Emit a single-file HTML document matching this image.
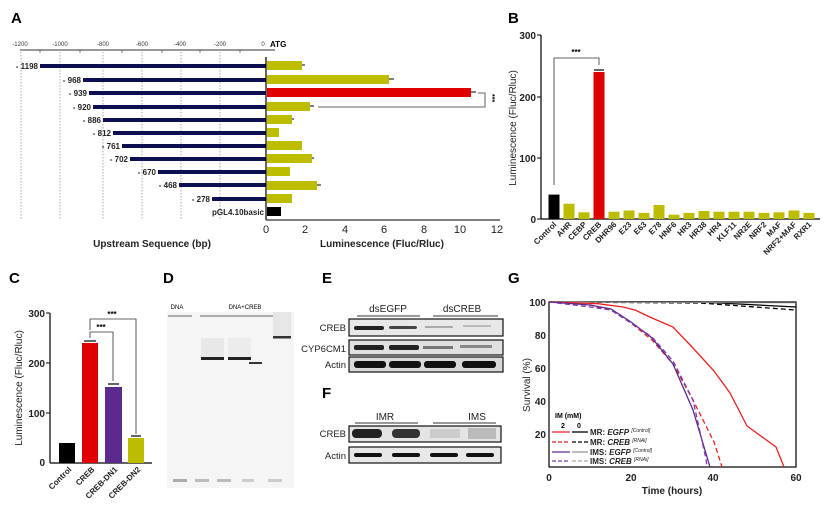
<!DOCTYPE html>
<html><head><meta charset="utf-8"><style>
body{margin:0;background:#fff}
svg{display:block;font-family:"Liberation Sans",Arial,sans-serif}
</style></head><body>
<svg width="827" height="527" viewBox="0 0 827 527" xmlns="http://www.w3.org/2000/svg">
<!-- Panel A -->
<text x="11" y="23" font-size="15" font-weight="bold">A</text>
<g font-size="6" fill="#333" text-anchor="middle">
<text x="20" y="46">-1200</text><text x="60" y="46">-1000</text><text x="103" y="46">-800</text><text x="142" y="46">-600</text><text x="180" y="46">-400</text><text x="220" y="46">-200</text><text x="263" y="46">0</text>
</g>
<text x="270" y="47" font-size="8" font-weight="bold">ATG</text>
<line x1="20" y1="50" x2="275" y2="50" stroke="#333" stroke-width="1"/>
<g stroke="#333" stroke-width="0.6">
<line x1="40" y1="50" x2="40" y2="53"/><line x1="80" y1="50" x2="80" y2="53"/><line x1="122" y1="50" x2="122" y2="53"/><line x1="162" y1="50" x2="162" y2="53"/><line x1="200" y1="50" x2="200" y2="53"/><line x1="240" y1="50" x2="240" y2="53"/>
</g>
<g stroke="#888" stroke-width="0.7" stroke-dasharray="1.5,1.5">
<line x1="21" y1="52" x2="21" y2="219"/><line x1="60" y1="52" x2="60" y2="219"/><line x1="103" y1="52" x2="103" y2="219"/><line x1="142" y1="52" x2="142" y2="219"/><line x1="181" y1="52" x2="181" y2="219"/><line x1="220" y1="52" x2="220" y2="219"/>
</g>
<g fill="#0d1050">
<rect x="40" y="64" width="226" height="4"/><rect x="83" y="78" width="183" height="4"/><rect x="89" y="91" width="177" height="4"/><rect x="93" y="105" width="173" height="4"/><rect x="103" y="118" width="163" height="4"/><rect x="113" y="131" width="153" height="4"/><rect x="122" y="144" width="144" height="4"/><rect x="130" y="157" width="136" height="4"/><rect x="158" y="170" width="108" height="4"/><rect x="179" y="183" width="87" height="4"/><rect x="212" y="197" width="54" height="4"/>
</g>
<g font-size="8" font-weight="bold" fill="#222" text-anchor="end">
<text x="38" y="69">- 1198</text><text x="81" y="83">- 968</text><text x="87" y="96">- 939</text><text x="91" y="110">- 920</text><text x="101" y="123">- 886</text><text x="111" y="136">- 812</text><text x="120" y="149">- 761</text><text x="128" y="162">- 702</text><text x="156" y="175">- 670</text><text x="177" y="188">- 468</text><text x="210" y="202">- 278</text><text x="264" y="215">pGL4.10basic</text>
</g>
<line x1="266" y1="57" x2="266" y2="220" stroke="#000" stroke-width="1.2"/>
<line x1="266" y1="220" x2="500" y2="220" stroke="#000" stroke-width="1"/>
<g fill="#bdbd00">
<rect x="267" y="61" width="35" height="9"/><rect x="267" y="75" width="122" height="9"/><rect x="267" y="102" width="43" height="9"/><rect x="267" y="115" width="25" height="9"/><rect x="267" y="128" width="12" height="9"/><rect x="267" y="141" width="35" height="9"/><rect x="267" y="154" width="45" height="9"/><rect x="267" y="167" width="23" height="9"/><rect x="267" y="181" width="50" height="9"/><rect x="267" y="194" width="25" height="9"/>
</g>
<rect x="267" y="88" width="204" height="9" fill="#e00000"/>
<rect x="267" y="207" width="14" height="9" fill="#000"/>
<g stroke="#000" stroke-width="1">
<line x1="302" y1="65" x2="305" y2="65"/><line x1="389" y1="79" x2="394" y2="79"/><line x1="471" y1="92" x2="476" y2="92"/><line x1="310" y1="106" x2="314" y2="106"/><line x1="292" y1="119" x2="294" y2="119"/><line x1="312" y1="158" x2="314" y2="158"/><line x1="317" y1="185" x2="321" y2="185"/>
</g>
<path d="M478 93 H485 V107 H318" fill="none" stroke="#333" stroke-width="0.8"/>
<text x="490" y="94" font-size="7" font-weight="bold" transform="rotate(90 490 94)">***</text>
<g font-size="11" fill="#222" text-anchor="middle">
<text x="266" y="233">0</text><text x="305" y="233">2</text><text x="345" y="233">4</text><text x="384" y="233">6</text><text x="424" y="233">8</text><text x="460" y="233">10</text><text x="497" y="233">12</text>
</g>
<text x="152" y="247" font-size="10" font-weight="bold" text-anchor="middle" fill="#222">Upstream Sequence (bp)</text>
<text x="382" y="247" font-size="10" font-weight="bold" text-anchor="middle" fill="#222">Luminescence (Fluc/Rluc)</text>

<!-- Panel B -->
<text x="508" y="23" font-size="15" font-weight="bold">B</text>
<line x1="541" y1="35" x2="541" y2="219" stroke="#000" stroke-width="1.2"/>
<line x1="541" y1="219" x2="820" y2="219" stroke="#000" stroke-width="1.2"/>
<g stroke="#000"><line x1="537" y1="35" x2="541" y2="35"/><line x1="537" y1="97" x2="541" y2="97"/><line x1="537" y1="158" x2="541" y2="158"/><line x1="537" y1="219" x2="541" y2="219"/></g>
<g font-size="10" font-weight="bold" text-anchor="end" fill="#222">
<text x="536" y="39">300</text><text x="536" y="101">200</text><text x="536" y="162">100</text><text x="536" y="223">0</text>
</g>
<text transform="translate(516 128) rotate(-90)" font-size="10" text-anchor="middle" fill="#222">Luminescence (Fluc/Rluc)</text>
<g id="bbars">
<rect x="548.5" y="194.6" width="11" height="24.4" fill="#000"/>
<rect x="563.5" y="203.7" width="11" height="15.3" fill="#bdbd00"/>
<rect x="578.5" y="212.3" width="11" height="6.7" fill="#bdbd00"/>
<rect x="593.5" y="72" width="11" height="147" fill="#e00000"/>
<rect x="608.5" y="211.7" width="11" height="7.3" fill="#bdbd00"/>
<rect x="623.5" y="210.5" width="11" height="8.5" fill="#bdbd00"/>
<rect x="638.5" y="212.9" width="11" height="6.1" fill="#bdbd00"/>
<rect x="653.5" y="205" width="11" height="14" fill="#bdbd00"/>
<rect x="668.5" y="214.7" width="11" height="4.3" fill="#bdbd00"/>
<rect x="683.5" y="212.9" width="11" height="6.1" fill="#bdbd00"/>
<rect x="698.5" y="211" width="11" height="8" fill="#bdbd00"/>
<rect x="713.5" y="211.7" width="11" height="7.3" fill="#bdbd00"/>
<rect x="728.5" y="211.7" width="11" height="7.3" fill="#bdbd00"/>
<rect x="743.5" y="211.7" width="11" height="7.3" fill="#bdbd00"/>
<rect x="758.5" y="212.9" width="11" height="6.1" fill="#bdbd00"/>
<rect x="773.5" y="212.3" width="11" height="6.7" fill="#bdbd00"/>
<rect x="788.5" y="210.5" width="11" height="8.5" fill="#bdbd00"/>
<rect x="803.5" y="212.9" width="11" height="6.1" fill="#bdbd00"/>
</g>
<line x1="594" y1="70" x2="604" y2="70" stroke="#333" stroke-width="1.5"/>
<path d="M554 185 V58 H599 V65" fill="none" stroke="#333" stroke-width="0.8"/>
<text x="576" y="55" font-size="8" font-weight="bold" text-anchor="middle">***</text>
<g font-size="8" font-weight="bold" text-anchor="end" fill="#222">
<text transform="translate(557 225) rotate(-45)">Control</text>
<text transform="translate(572 225) rotate(-45)">AHR</text>
<text transform="translate(587 225) rotate(-45)">CEBP</text>
<text transform="translate(602 225) rotate(-45)">CREB</text>
<text transform="translate(617 225) rotate(-45)">DHR96</text>
<text transform="translate(632 225) rotate(-45)">E23</text>
<text transform="translate(647 225) rotate(-45)">E63</text>
<text transform="translate(662 225) rotate(-45)">E78</text>
<text transform="translate(677 225) rotate(-45)">HNF6</text>
<text transform="translate(692 225) rotate(-45)">HR3</text>
<text transform="translate(707 225) rotate(-45)">HR38</text>
<text transform="translate(722 225) rotate(-45)">HR4</text>
<text transform="translate(737 225) rotate(-45)">KLF11</text>
<text transform="translate(752 225) rotate(-45)">NR2E</text>
<text transform="translate(767 225) rotate(-45)">NRF2</text>
<text transform="translate(782 225) rotate(-45)">MAF</text>
<text transform="translate(797 225) rotate(-45)">NRF2+MAF</text>
<text transform="translate(812 225) rotate(-45)">RXR1</text>
</g>

<!-- Panel C -->
<text x="9" y="283" font-size="15" font-weight="bold">C</text>
<line x1="50" y1="313" x2="50" y2="463" stroke="#000" stroke-width="1.2"/>
<line x1="50" y1="463" x2="152" y2="463" stroke="#000" stroke-width="1.2"/>
<g stroke="#000"><line x1="46" y1="313" x2="50" y2="313"/><line x1="46" y1="363" x2="50" y2="363"/><line x1="46" y1="413" x2="50" y2="413"/></g>
<g font-size="10" font-weight="bold" text-anchor="end" fill="#222">
<text x="45" y="317">300</text><text x="45" y="367">200</text><text x="45" y="417">100</text><text x="45" y="466">0</text>
</g>
<text transform="translate(22 388) rotate(-90)" font-size="10" text-anchor="middle" fill="#222">Luminescence (Fluc/Rluc)</text>
<rect x="59" y="443" width="16" height="20" fill="#000"/>
<rect x="82" y="343" width="16" height="120" fill="#e00000"/>
<rect x="105" y="387" width="17" height="76" fill="#5b2a8c"/>
<rect x="128" y="438" width="16" height="25" fill="#bdbd00"/>
<g stroke="#000" stroke-width="1.2"><line x1="84" y1="341" x2="96" y2="341"/><line x1="108" y1="384" x2="119" y2="384"/><line x1="131" y1="436" x2="141" y2="436"/></g>
<path d="M90 338 V332 H113 V381" fill="none" stroke="#333" stroke-width="0.8"/>
<path d="M90 330 V319 H136 V434" fill="none" stroke="#333" stroke-width="0.8"/>
<text x="101" y="330" font-size="8" font-weight="bold" text-anchor="middle">***</text>
<text x="112" y="317" font-size="8" font-weight="bold" text-anchor="middle">***</text>
<g font-size="8" font-weight="bold" text-anchor="end" fill="#222">
<text transform="translate(72 470) rotate(-45)">Control</text>
<text transform="translate(95 470) rotate(-45)">CREB</text>
<text transform="translate(118 470) rotate(-45)">CREB-DN1</text>
<text transform="translate(141 470) rotate(-45)">CREB-DN2</text>
</g>

<!-- Panel D -->
<text x="163" y="283" font-size="15" font-weight="bold">D</text>
<rect x="167" y="312" width="127" height="176" fill="#f5f5f5"/>
<text x="177" y="309" font-size="6" text-anchor="middle">DNA</text>
<text x="245" y="309" font-size="6" text-anchor="middle">DNA+CREB</text>
<line x1="168" y1="316" x2="192" y2="316" stroke="#333" stroke-width="0.8"/>
<line x1="200" y1="316" x2="290" y2="316" stroke="#333" stroke-width="0.8"/>
<rect x="201" y="338" width="23" height="20" fill="#e8e8e8"/><rect x="228" y="338" width="23" height="20" fill="#ececec"/>
<rect x="273" y="312" width="18" height="25" fill="#e6e6e6"/>
<rect x="201" y="357" width="23" height="3" fill="#222"/>
<rect x="228" y="357" width="23" height="3" fill="#222"/>
<rect x="249" y="362" width="13" height="2" fill="#333"/>
<rect x="273" y="336" width="18" height="2.5" fill="#333"/>
<g fill="#aaa"><rect x="173" y="479" width="14" height="3"/><rect x="195" y="479" width="14" height="3" fill="#bbb"/><rect x="217" y="479" width="14" height="3" fill="#bbb"/><rect x="242" y="479" width="12" height="3" fill="#ccc"/><rect x="268" y="479" width="14" height="3" fill="#ccc"/></g>

<!-- Panel E -->
<text x="322" y="283" font-size="15" font-weight="bold">E</text>
<g font-size="10" text-anchor="middle" fill="#222"><text x="388" y="312">dsEGFP</text><text x="462" y="312">dsCREB</text></g>
<line x1="357" y1="316" x2="420" y2="316" stroke="#333"/><line x1="433" y1="316" x2="498" y2="316" stroke="#333"/>
<g font-size="9.5" text-anchor="end" fill="#222"><text x="346" y="331">CREB</text><text x="346" y="352">CYP6CM1</text><text x="346" y="368">Actin</text></g>
<rect x="349" y="319" width="154" height="17" fill="#e8e8e8" stroke="#111" stroke-width="1.2"/>
<rect x="349" y="340" width="154" height="15" fill="#e0e0e0" stroke="#111" stroke-width="1.2"/>
<rect x="349" y="357" width="154" height="15" fill="#d8d8d8" stroke="#111" stroke-width="1.2"/>
<g fill="#222"><rect x="354" y="326" width="30" height="4" rx="2"/><rect x="389" y="326" width="28" height="3" rx="2" fill="#444"/><rect x="425" y="326" width="28" height="2" fill="#aaa"/><rect x="463" y="325" width="28" height="2" fill="#bbb"/>
<rect x="354" y="345" width="30" height="5" rx="2"/><rect x="389" y="345" width="30" height="5" rx="2"/><rect x="423" y="346" width="30" height="3" fill="#777"/><rect x="460" y="345" width="32" height="3" fill="#888"/>
<rect x="354" y="361" width="32" height="7" rx="3" fill="#111"/><rect x="389" y="361" width="32" height="7" rx="3" fill="#111"/><rect x="424" y="361" width="32" height="7" rx="3" fill="#111"/><rect x="462" y="361" width="34" height="7" rx="3" fill="#111"/></g>

<!-- Panel F -->
<text x="322" y="398" font-size="15" font-weight="bold">F</text>
<g font-size="10" text-anchor="middle" fill="#222"><text x="385" y="420">IMR</text><text x="477" y="420">IMS</text></g>
<line x1="355" y1="423" x2="418" y2="423" stroke="#333"/><line x1="433" y1="423" x2="496" y2="423" stroke="#333"/>
<g font-size="9.5" text-anchor="end" fill="#222"><text x="346" y="437">CREB</text><text x="346" y="459">Actin</text></g>
<rect x="349" y="426" width="152" height="16" fill="#e4e4e4" stroke="#111" stroke-width="1.2"/>
<rect x="349" y="447" width="152" height="16" fill="#e8e8e8" stroke="#111" stroke-width="1.2"/>
<rect x="352" y="429" width="30" height="9" rx="4" fill="#222"/><rect x="392" y="429" width="28" height="9" rx="4" fill="#333"/><rect x="430" y="429" width="30" height="9" fill="#ccc"/><rect x="468" y="428" width="28" height="11" fill="#bbb"/>
<g fill="#111"><rect x="354" y="453" width="28" height="4" rx="2"/><rect x="392" y="453" width="28" height="4" rx="2"/><rect x="430" y="453" width="28" height="4" rx="2"/><rect x="466" y="453" width="28" height="4" rx="2"/></g>

<!-- Panel G -->
<text x="508" y="283" font-size="15" font-weight="bold">G</text>
<rect x="549" y="302" width="247" height="165" fill="none" stroke="#000" stroke-width="1.2"/>
<g font-size="10" font-weight="bold" text-anchor="end" fill="#222">
<text x="546" y="306">100</text><text x="546" y="339">80</text><text x="546" y="372">60</text><text x="546" y="405">40</text><text x="546" y="438">20</text>
</g>
<g font-size="10" font-weight="bold" text-anchor="middle" fill="#222">
<text x="549" y="481">0</text><text x="631" y="481">20</text><text x="713" y="481">40</text><text x="796" y="481">60</text>
</g>
<text x="672" y="494" font-size="10" font-weight="bold" text-anchor="middle" fill="#222">Time (hours)</text>
<text transform="translate(530 385) rotate(-90)" font-size="10" text-anchor="middle" fill="#222">Survival (%)</text>
<g fill="none" stroke-width="1.3">
<polyline stroke="#000" points="549,302 700,302 796,307"/>
<polyline stroke="#000" stroke-dasharray="5,3" points="549,302 700,303 796,310"/>
<polyline stroke="#aaa" stroke-width="0.8" points="549,302 796,303"/>
<polyline stroke="#e82020" points="549,302 598,303.7 623,307 635,310 652,318 673,327 693,348 714,371 730,393 747,426 776,447 784,467"/>
<polyline stroke="#e82020" stroke-dasharray="5,3" points="549,302 590,305 611,310 631,323 652,340 673,364 693,400 714,442 722,467"/>
<polyline stroke="#5b2a8c" points="549,302 590,305 611,309 631,322 652,338 673,364 693,410 710,467"/>
<polyline stroke="#7b3ab0" stroke-dasharray="5,3" points="549,302 590,307 611,310 631,323 652,337 673,361 693,400 706,459 707,467"/>
</g>
<text x="555" y="418" font-size="7" font-weight="bold">IM (mM)</text>
<text x="561" y="428" font-size="7" font-weight="bold">2</text><text x="577" y="428" font-size="7" font-weight="bold">0</text>
<g stroke-width="1.3">
<line x1="552" y1="432" x2="570" y2="432" stroke="#e82020"/><line x1="572" y1="432" x2="588" y2="432" stroke="#000"/>
<line x1="552" y1="442" x2="570" y2="442" stroke="#e82020" stroke-dasharray="4,2"/><line x1="572" y1="442" x2="588" y2="442" stroke="#000" stroke-dasharray="4,2"/>
<line x1="552" y1="452" x2="570" y2="452" stroke="#5b2a8c"/><line x1="572" y1="452" x2="588" y2="452" stroke="#999"/>
<line x1="552" y1="461" x2="570" y2="461" stroke="#7b3ab0" stroke-dasharray="4,2"/><line x1="572" y1="461" x2="588" y2="461" stroke="#aaa" stroke-dasharray="4,2"/>
</g>
<g font-size="8" font-weight="bold" fill="#222">
<text x="590" y="435">MR: <tspan font-style="italic">EGFP</tspan> <tspan font-size="5" dy="-3" font-style="italic" font-weight="normal">[Control]</tspan></text>
<text x="590" y="445">MR: <tspan font-style="italic">CREB</tspan> <tspan font-size="5" dy="-3" font-style="italic" font-weight="normal">[RNAi]</tspan></text>
<text x="590" y="455">IMS: <tspan font-style="italic">EGFP</tspan> <tspan font-size="5" dy="-3" font-style="italic" font-weight="normal">[Control]</tspan></text>
<text x="590" y="464">IMS: <tspan font-style="italic">CREB</tspan> <tspan font-size="5" dy="-3" font-style="italic" font-weight="normal">[RNAi]</tspan></text>
</g>
</svg>
</body></html>
